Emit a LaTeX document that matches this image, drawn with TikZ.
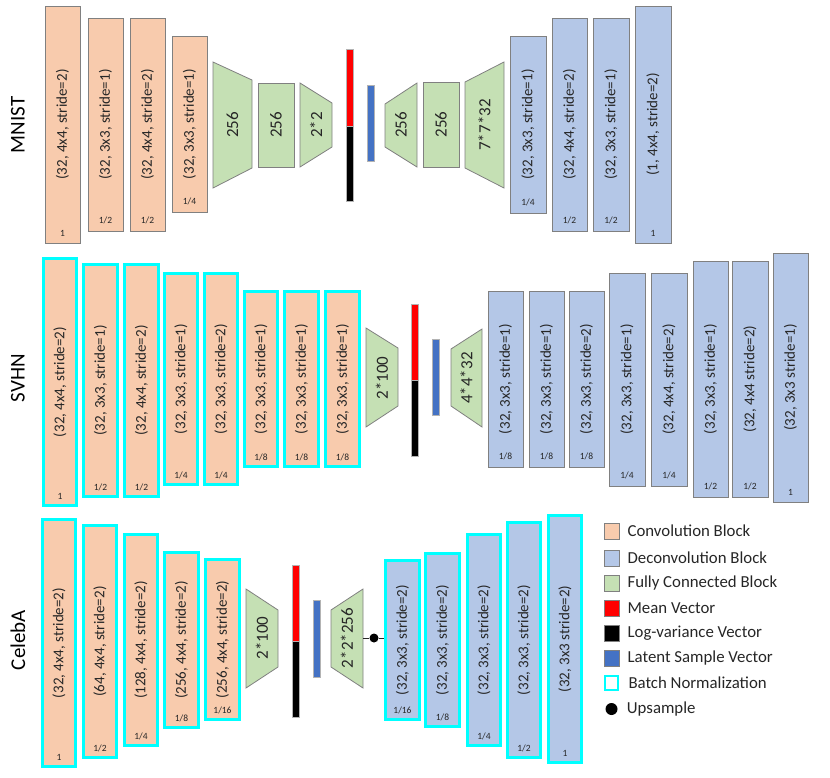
\documentclass[tikz,border=0pt]{standalone}
\usepackage{fontspec}
\setmainfont{Carlito}
\usepackage{tikz}
\usetikzlibrary{positioning}
\definecolor{convFill}{RGB}{248,203,173}
\definecolor{deconvFill}{RGB}{180,199,231}
\definecolor{fcFill}{RGB}{197,224,180}
\definecolor{meanRed}{RGB}{255,0,0}
\definecolor{latentBlue}{RGB}{68,114,196}
\definecolor{bnCyan}{RGB}{0,255,255}
\definecolor{edgeGrey}{RGB}{128,128,128}
\definecolor{inkGrey}{RGB}{38,38,38}

\begin{document}
\begin{tikzpicture}[x=1pt,y=-1pt,
  blk/.style={draw=edgeGrey,line width=0.8pt,rotate=90,inner sep=0pt,text=inkGrey,
    font=\fontsize{15}{17}\selectfont},
  conv/.style={blk,fill=convFill},
  deconv/.style={blk,fill=deconvFill},
  bnorm/.style={draw=bnCyan,line width=2.6pt},
  fcbox/.style={draw=edgeGrey,fill=fcFill,line width=0.8pt},
  fcnode/.style={fcbox,rotate=90,inner sep=0pt,text=inkGrey,font=\fontsize{17}{19}\selectfont},
  fctext/.style={rotate=90,inner sep=0pt,text=inkGrey,font=\fontsize{17}{19}\selectfont},
  scalelbl/.style={inner sep=0pt,text=inkGrey,font=\fontsize{9.5}{11}\selectfont},
  vecbar/.style={draw=edgeGrey!60,line width=0.3pt,inner sep=0pt,minimum width=7pt},
  rowname/.style={rotate=90,inner sep=0pt,font=\fontsize{21}{23}\selectfont},
  legsw/.style={draw=edgeGrey,line width=0.8pt,minimum width=15pt,minimum height=16pt,inner sep=0pt},
  legtext/.style={inner sep=0pt,text=inkGrey,font=\fontsize{16.8}{19}\selectfont}]
\useasboundingbox (0,0) rectangle (830,777);

% ---- MNIST ----
\node[rowname] (lmnist) at (18,125) {MNIST};
\node[conv,minimum width=237pt,minimum height=35pt] (mc1) at (62.5,124.5) {(32, 4x4, stride=2)};
\node[scalelbl,above=7pt of mc1.west] (mc1s) {1};
\node[conv,minimum width=213pt,minimum height=35pt] (mc2) at (105.5,124.5) {(32, 3x3, stride=1)};
\node[scalelbl,above=7pt of mc2.west] (mc2s) {1/2};
\node[conv,minimum width=213pt,minimum height=35pt] (mc3) at (147.5,124.5) {(32, 4x4, stride=2)};
\node[scalelbl,above=7pt of mc3.west] (mc3s) {1/2};
\node[conv,minimum width=176pt,minimum height=35pt] (mc4) at (189.5,124) {(32, 3x3, stride=1)};
\node[scalelbl,above=7pt of mc4.west] (mc4s) {1/4};
\draw[fcbox] (213,62) -- (252,80) -- (252,168) -- (213,188) -- cycle;
\node[fctext] (mf1) at (232.5,125) {256};
\node[fcnode,minimum width=84pt,minimum height=36pt] (mf2) at (276,125) {256};
\draw[fcbox] (300,83) -- (332,103) -- (332,147) -- (300,167) -- cycle;
\node[fctext] (mf3) at (316,125) {2*2};
\node[vecbar,fill=meanRed,minimum height=77pt] (mmu) at (349.5,87.5) {};
\node[vecbar,fill=black,minimum height=75pt] (mvar) at (349.5,163.5) {};
\node[vecbar,fill=latentBlue,minimum height=76pt] (mz) at (371,123) {};
\draw[fcbox] (385,104) -- (417,83) -- (417,167) -- (385,147) -- cycle;
\node[fctext] (mg1) at (401,125) {256};
\node[fcnode,minimum width=85pt,minimum height=36pt] (mg2) at (441,124.5) {256};
\draw[fcbox] (465,82) -- (504,62) -- (504,188) -- (465,168) -- cycle;
\node[fctext] (mg3) at (484.5,125) {7*7*32};
\node[deconv,minimum width=177pt,minimum height=36pt] (md1) at (528,124.5) {(32, 3x3, stride=1)};
\node[scalelbl,above=7pt of md1.west] (md1s) {1/4};
\node[deconv,minimum width=213pt,minimum height=35pt] (md2) at (569.5,124.5) {(32, 4x4, stride=2)};
\node[scalelbl,above=7pt of md2.west] (md2s) {1/2};
\node[deconv,minimum width=213pt,minimum height=36pt] (md3) at (611,124.5) {(32, 3x3, stride=1)};
\node[scalelbl,above=7pt of md3.west] (md3s) {1/2};
\node[deconv,minimum width=237pt,minimum height=36pt] (md4) at (653,124.5) {(1, 4x4, stride=2)};
\node[scalelbl,above=7pt of md4.west] (md4s) {1};

% ---- SVHN ----
\node[rowname] (lsvhn) at (18,378) {SVHN};
\node[conv,bnorm,minimum width=247pt,minimum height=33pt] (sc1) at (60,382) {(32, 4x4, stride=2)};
\node[scalelbl,above=7pt of sc1.west] (sc1s) {1};
\node[conv,bnorm,minimum width=232pt,minimum height=34pt] (sc2) at (100.5,380.5) {(32, 3x3, stride=1)};
\node[scalelbl,above=7pt of sc2.west] (sc2s) {1/2};
\node[conv,bnorm,minimum width=232pt,minimum height=34pt] (sc3) at (141.5,380.5) {(32, 4x4, stride=2)};
\node[scalelbl,above=7pt of sc3.west] (sc3s) {1/2};
\node[conv,bnorm,minimum width=211pt,minimum height=33pt] (sc4) at (181,379) {(32, 3x3, stride=1)};
\node[scalelbl,above=7pt of sc4.west] (sc4s) {1/4};
\node[conv,bnorm,minimum width=211pt,minimum height=33pt] (sc5) at (221,379) {(32, 3x3, stride=2)};
\node[scalelbl,above=7pt of sc5.west] (sc5s) {1/4};
\node[conv,bnorm,minimum width=175pt,minimum height=33pt] (sc6) at (261,379) {(32, 3x3, stride=1)};
\node[scalelbl,above=7pt of sc6.west] (sc6s) {1/8};
\node[conv,bnorm,minimum width=175pt,minimum height=34pt] (sc7) at (301.5,379) {(32, 3x3, stride=1)};
\node[scalelbl,above=7pt of sc7.west] (sc7s) {1/8};
\node[conv,bnorm,minimum width=175pt,minimum height=34pt] (sc8) at (342.5,379) {(32, 3x3, stride=1)};
\node[scalelbl,above=7pt of sc8.west] (sc8s) {1/8};
\draw[fcbox] (366,328) -- (398,348) -- (398,406) -- (366,427) -- cycle;
\node[fctext] (sf1) at (382,378) {2*100};
\node[vecbar,fill=meanRed,minimum height=76pt] (smu) at (414.5,342) {};
\node[vecbar,fill=black,minimum height=76pt] (svar) at (414.5,418) {};
\node[vecbar,fill=latentBlue,minimum height=76pt] (sz) at (436,377) {};
\draw[fcbox] (451,349) -- (482,329) -- (482,427) -- (451,406) -- cycle;
\node[fctext] (sg1) at (466.5,378) {4*4*32};
\node[deconv,minimum width=176pt,minimum height=35pt] (sd1) at (505.5,379) {(32, 3x3, stride=1)};
\node[scalelbl,above=7pt of sd1.west] (sd1s) {1/8};
\node[deconv,minimum width=176pt,minimum height=35pt] (sd2) at (546.5,379) {(32, 3x3, stride=1)};
\node[scalelbl,above=7pt of sd2.west] (sd2s) {1/8};
\node[deconv,minimum width=176pt,minimum height=35pt] (sd3) at (586.5,379) {(32, 3x3, stride=2)};
\node[scalelbl,above=7pt of sd3.west] (sd3s) {1/8};
\node[deconv,minimum width=213pt,minimum height=36pt] (sd4) at (627,379.5) {(32, 3x3, stride=1)};
\node[scalelbl,above=7pt of sd4.west] (sd4s) {1/4};
\node[deconv,minimum width=213pt,minimum height=36pt] (sd5) at (669,379.5) {(32, 4x4, stride=2)};
\node[scalelbl,above=7pt of sd5.west] (sd5s) {1/4};
\node[deconv,minimum width=236pt,minimum height=35pt] (sd6) at (710.5,379) {(32, 3x3, stride=1)};
\node[scalelbl,above=7pt of sd6.west] (sd6s) {1/2};
\node[deconv,minimum width=236pt,minimum height=36pt] (sd7) at (750,379) {(32, 4x4 stride=2)};
\node[scalelbl,above=7pt of sd7.west] (sd7s) {1/2};
\node[deconv,minimum width=249pt,minimum height=35pt] (sd8) at (790.5,377.5) {(32, 3x3 stride=1)};
\node[scalelbl,above=7pt of sd8.west] (sd8s) {1};

% ---- CelebA ----
\node[rowname] (lceleba) at (18,640) {CelebA};
\node[conv,bnorm,minimum width=247pt,minimum height=33pt] (cc1) at (59,643) {(32, 4x4, stride=2)};
\node[scalelbl,above=7pt of cc1.west] (cc1s) {1};
\node[conv,bnorm,minimum width=232pt,minimum height=33pt] (cc2) at (100,641.5) {(64, 4x4, stride=2)};
\node[scalelbl,above=7pt of cc2.west] (cc2s) {1/2};
\node[conv,bnorm,minimum width=211pt,minimum height=33pt] (cc3) at (141,640) {(128, 4x4, stride=2)};
\node[scalelbl,above=7pt of cc3.west] (cc3s) {1/4};
\node[conv,bnorm,minimum width=175pt,minimum height=34pt] (cc4) at (181.5,640) {(256, 4x4, stride=2)};
\node[scalelbl,above=7pt of cc4.west] (cc4s) {1/8};
\node[conv,bnorm,minimum width=160pt,minimum height=34pt] (cc5) at (222.5,639.5) {(256, 4x4, stride=2)};
\node[scalelbl,above=7pt of cc5.west] (cc5s) {1/16};
\draw[fcbox] (246,589) -- (278,610) -- (278,667) -- (246,688) -- cycle;
\node[fctext] (cf1) at (262,638) {2*100};
\node[vecbar,fill=meanRed,minimum height=76pt] (cmu) at (295.5,603) {};
\node[vecbar,fill=black,minimum height=76pt] (cvar) at (295.5,679) {};
\node[vecbar,fill=latentBlue,minimum height=77pt] (cz) at (316.5,638.5) {};
\draw[fcbox] (331,610) -- (363,589) -- (363,688) -- (331,667) -- cycle;
\node[fctext] (cg1) at (347,638) {2*2*256};
\coordinate (cg1r) at (363,638);
\node[deconv,bnorm,minimum width=159pt,minimum height=34pt] (cd1) at (402.5,640) {(32, 3x3, stride=2)};
\node[scalelbl,above=7pt of cd1.west] (cd1s) {1/16};
\node[deconv,bnorm,minimum width=173pt,minimum height=34pt] (cd2) at (442.5,640) {(32, 3x3, stride=2)};
\node[scalelbl,above=7pt of cd2.west] (cd2s) {1/8};
\node[deconv,bnorm,minimum width=211pt,minimum height=33pt] (cd3) at (484,640) {(32, 3x3, stride=2)};
\node[scalelbl,above=7pt of cd3.west] (cd3s) {1/4};
\node[deconv,bnorm,minimum width=235pt,minimum height=33pt] (cd4) at (524,640) {(32, 3x3, stride=2)};
\node[scalelbl,above=7pt of cd4.west] (cd4s) {1/2};
\node[deconv,bnorm,minimum width=247pt,minimum height=33pt] (cd5) at (565,639) {(32, 3x3 stride=2)};
\node[scalelbl,above=7pt of cd5.west] (cd5s) {1};
\node[circle,fill=black,inner sep=0pt,minimum size=9pt] (cup) at (374,638) {};
\draw[line width=0.8pt,inkGrey] (cg1r) -- (cup) -- (cd1.north |- cup);

% ---- legend ----
\node[legsw,fill=convFill] (lgconv) at (611.5,531) {};
\node[legtext,right=8pt of lgconv] (lgconvt) {Convolution Block};
\node[legsw,fill=deconvFill] (lgdeconv) at (611.5,558) {};
\node[legtext,right=8pt of lgdeconv] (lgdeconvt) {Deconvolution Block};
\node[legsw,fill=fcFill] (lgfc) at (611.5,583) {};
\node[legtext,right=8pt of lgfc] (lgfct) {Fully Connected Block};
\node[legsw,fill=meanRed] (lgmu) at (611.5,608) {};
\node[legtext,right=8pt of lgmu] (lgmut) {Mean Vector};
\node[legsw,fill=black] (lgvar) at (611.5,633) {};
\node[legtext,right=8pt of lgvar] (lgvart) {Log-variance Vector};
\node[legsw,fill=latentBlue] (lgz) at (611.5,658) {};
\node[legtext,right=8pt of lgz] (lgzt) {Latent Sample Vector};
\node[legsw,bnorm,fill=white,minimum width=13pt,minimum height=14pt] (lgbn) at (611.5,683) {};
\node[legtext,right=9pt of lgbn] (lgbnt) {Batch Normalization};
\node[circle,fill=black,inner sep=0pt,minimum size=12pt] (lgup) at (611.5,709) {};
\node[legtext,right=9pt of lgup] (lgupt) {Upsample};
\end{tikzpicture}
\end{document}
